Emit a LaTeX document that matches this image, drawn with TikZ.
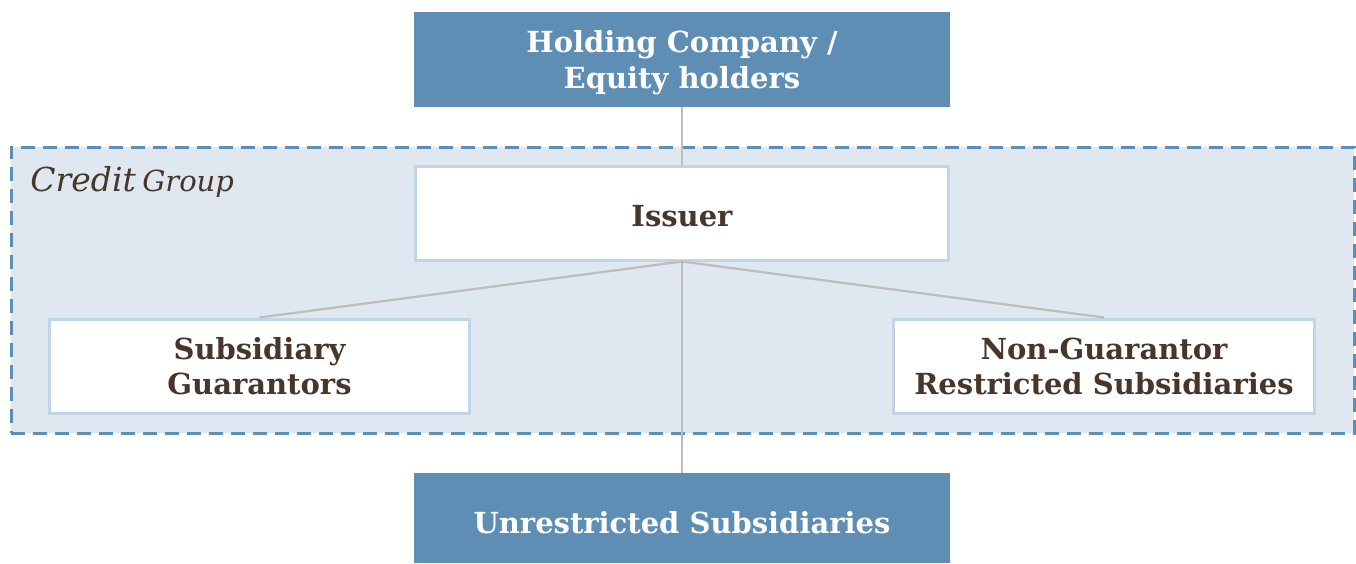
\documentclass[tikz,border=0pt]{standalone}
\usepackage{fontspec}
\setmainfont{DejaVu Serif}
\usepackage{xcolor}
\usepackage{tikz}
\usetikzlibrary{positioning}
\definecolor{steel}{HTML}{5F8EB5}
\definecolor{pale}{HTML}{DFE7F0}
\definecolor{rim}{HTML}{C2D5E6}
\definecolor{ink}{HTML}{47362A}
\definecolor{wire}{HTML}{BDBDBD}
\tikzset{
  solidbox/.style={fill=steel, text=white, inner sep=0pt, align=center,
    font=\bfseries\fontsize{14.5}{18}\selectfont, minimum width=268pt},
  whitebox/.style={fill=white, draw=rim, line width=1.5pt, text=ink, inner sep=0pt,
    align=center, font=\bfseries\fontsize{14.5}{17.5}\selectfont, minimum height=47pt},
  groupbox/.style={fill=pale, draw=steel, line width=1.5pt, dash pattern=on 7pt off 4pt,
    inner sep=0pt, minimum width=671.5pt, minimum height=143pt},
  wire/.style={draw=wire, line width=1.1pt},
  lab/.style={text=ink, font=\itshape, inner sep=0pt},
}

\begin{document}
\begin{tikzpicture}[x=0.5pt, y=-0.5pt]
  \useasboundingbox (0,0) rectangle (1356,563);
  % credit group
  \node[groupbox] (group) at (682.5,290) {};
  \node[lab, anchor=base west] (grouplab) at (30,191)
    {{\fontsize{16.5}{18}\selectfont Credit} {\fontsize{14.5}{16}\selectfont Group}};
  % boxes
  \node[solidbox, minimum height=47.5pt, text depth=0pt] (holding) at (682,59.5) {Holding Company /\\Equity holders};
  \node[whitebox, minimum width=266.5pt, text height=13pt, text depth=0pt] (issuer) at (682,213) {Issuer};
  \node[whitebox, minimum width=210pt] (guar) at (259.5,366) {Subsidiary\\Guarantors};
  \node[whitebox, minimum width=210.5pt] (nonguar) at (1104,366) {Non-Guarantor\\Restricted Subsidiaries};
  \node[solidbox, minimum height=45pt, text height=15pt, text depth=0pt] (unres) at (682,518) {Unrestricted Subsidiaries};
  % links
  \draw[wire] (holding.south) -- (issuer.north);
  \draw[wire] (issuer.south) -- (guar.north);
  \draw[wire] (issuer.south) -- (nonguar.north);
  \draw[wire] (issuer.south) -- (unres.north);
\end{tikzpicture}
\end{document}
